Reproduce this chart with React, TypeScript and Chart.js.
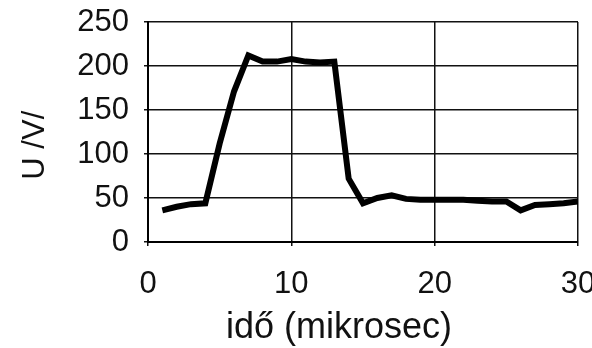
import React, { useEffect, useRef } from "react";
import { Chart, registerables } from "chart.js";

Chart.register(...registerables);

const times = [1, 2, 3, 4, 5, 6, 7, 8, 9, 10, 11, 12, 13, 14, 15, 16, 17, 18, 19, 20, 21, 22, 23, 24, 25, 26, 27, 28, 29, 30];
const voltages = [36, 40, 43, 44, 112, 171, 212, 205, 205, 208, 205, 204, 205, 72, 44, 50, 53, 49, 48, 48, 48, 48, 47, 46, 46, 36, 42, 43, 44, 46];
const xTicks = [0, 10, 20, 30];
const yTicks = [0, 50, 100, 150, 200, 250];
const xTitle = "idő (mikrosec)";
const yTitle = "U /V/";

const titlePlugin = {
  id: "customTitles",
  afterDraw(chart: any) {
    const ctx = chart.ctx;
    const xs = chart.scales.x;
    const ys = chart.scales.y;
    ctx.save();
    ctx.fillStyle = "#111";
    ctx.textAlign = "center";
    ctx.textBaseline = "alphabetic";
    ctx.font = "36px 'Liberation Sans', Arial, sans-serif";
    ctx.fillText(xTitle, (xs.left + xs.right) / 2 - 24, 338);
    ctx.translate(44, ys.getPixelForValue(110));
    ctx.rotate(-Math.PI / 2);
    ctx.font = "31px 'Liberation Sans', Arial, sans-serif";
    ctx.fillText(yTitle, 0, 0);
    ctx.restore();
  },
};

export default function App() {
  const ref = useRef<HTMLCanvasElement | null>(null);
  useEffect(() => {
    if (!ref.current) return;
    const chart = new Chart(ref.current, {
      type: "line",
      data: {
        datasets: [
          {
            data: times.map((t, i) => ({ x: t, y: voltages[i] })),
            borderColor: "#000",
            borderWidth: 6,
            pointRadius: 0,
            tension: 0,
            fill: false,
          },
        ],
      },
      options: {
        animation: false,
        responsive: false,
        maintainAspectRatio: false,
        layout: { padding: { top: 22, right: 14, left: 0, bottom: 0 } },
        plugins: { legend: { display: false }, tooltip: { enabled: false } },
        scales: {
          x: {
            type: "linear",
            min: 0,
            max: 30,
            afterFit: (s: any) => {
              s.height = 106;
              s.paddingLeft = 0;
              s.paddingRight = 0;
            },
            afterBuildTicks: (s: any) => {
              s.ticks = xTicks.map((v) => ({ value: v }));
            },
            ticks: {
              color: "#111",
              font: { family: "'Liberation Sans', Arial, sans-serif", size: 31 },
              padding: 20,
              maxRotation: 0,
              autoSkip: false,
            },
            grid: { color: "#111", lineWidth: 1.5, tickLength: 4 },
            border: { color: "#000", width: 2 },
          },
          y: {
            type: "linear",
            min: 0,
            max: 250,
            afterFit: (s: any) => {
              s.width = 148;
              s.paddingTop = 0;
              s.paddingBottom = 0;
            },
            afterBuildTicks: (s: any) => {
              s.ticks = yTicks.map((v) => ({ value: v }));
            },
            ticks: {
              color: "#111",
              font: { family: "'Liberation Sans', Arial, sans-serif", size: 31 },
              padding: 15,
              autoSkip: false,
            },
            grid: { color: "#111", lineWidth: 1.5, tickLength: 4 },
            border: { color: "#000", width: 2 },
          },
        },
      },
      plugins: [titlePlugin],
    });
    return () => chart.destroy();
  }, []);
  return (
    <div style={{ position: "fixed", left: 0, top: 0, width: 592, height: 348, background: "#fff" }}>
      <canvas ref={ref} width={592} height={348} style={{ width: 592, height: 348, display: "block" }} />
    </div>
  );
}
